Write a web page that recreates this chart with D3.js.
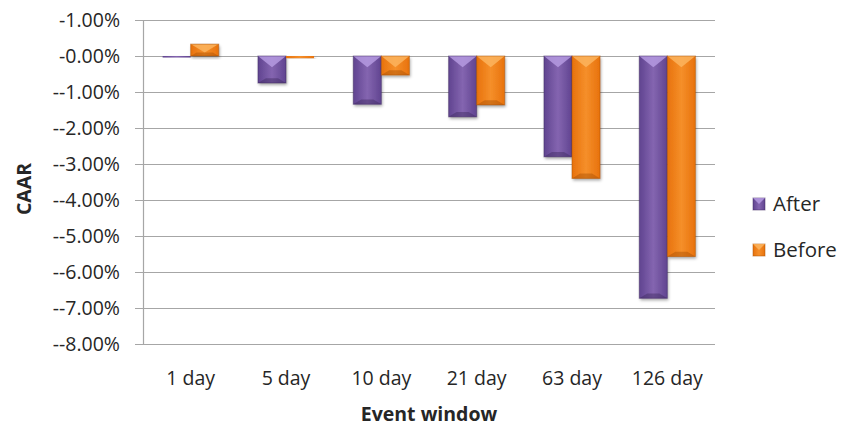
<!DOCTYPE html>
<html><head><meta charset="utf-8">
<script src="https://cdn.jsdelivr.net/npm/d3@7"></script>
<style>body{margin:0;background:#fff}svg{display:block}text{font-family:"Open Sans",Lato,sans-serif;fill:#262626}</style>
</head><body><svg id="c" width="842" height="427"></svg>
<script>
const categories = ["1 day","5 day","10 day","21 day","63 day","126 day"];
const seriesNames = ["After","Before"];
const after  = [-0.01,-0.75,-1.34,-1.69,-2.80,-6.73];
const before = [0.33,-0.06,-0.53,-1.36,-3.40,-5.57];
const yTicks = [1,0,-1,-2,-3,-4,-5,-6,-7,-8];
const colors = {After:["#8465b0","#604490","#3f2a5f"], Before:["#f58f2a","#e8720c","#a84f05"]};

const svg = d3.select("#c");
const m = {l:143, r:715, t:20, b:344};
const x = d3.scaleBand().domain(categories).range([m.l,m.r]).paddingInner(140/340).paddingOuter(70/340);
const xs = d3.scaleBand().domain(seriesNames).range([0,x.bandwidth()]);
const y = d3.scaleLinear().domain([-8,1]).range([m.b,m.t]);

const defs = svg.append("defs");
const f = defs.append("filter").attr("id","sh").attr("x","-20%").attr("y","-20%").attr("width","150%").attr("height","150%");
f.append("feDropShadow").attr("dx",1).attr("dy",2).attr("stdDeviation",1.5).attr("flood-color","#000").attr("flood-opacity",0.35);
seriesNames.forEach(s=>{
  const g = defs.append("linearGradient").attr("id","g"+s).attr("x1",0).attr("x2",1).attr("y1",0).attr("y2",0);
  g.append("stop").attr("offset","0%").attr("stop-color",colors[s][1]);
  g.append("stop").attr("offset","50%").attr("stop-color",colors[s][0]);
  g.append("stop").attr("offset","100%").attr("stop-color",colors[s][1]);
});

const fmt = d => "-" + (d>0 ? d.toFixed(2) : d===0 ? "0.00" : "-"+Math.abs(d).toFixed(2)) + "%";

// gridlines
svg.append("g").selectAll("line").data(yTicks).join("line")
  .attr("x1",m.l-8).attr("x2",m.r).attr("y1",d=>y(d)+0.5).attr("y2",d=>y(d)+0.5)
  .attr("stroke","#a6a6a6").attr("stroke-width",1.2);
// axis line
svg.append("line").attr("x1",m.l+0.5).attr("x2",m.l+0.5).attr("y1",m.t).attr("y2",m.b+0.5).attr("stroke","#a6a6a6").attr("stroke-width",1.2);
// y labels
svg.append("g").selectAll("text").data(yTicks).join("text")
  .attr("x",120).attr("y",d=>y(d)).attr("dy","0.36em").attr("text-anchor","end")
  .attr("font-size",19.5).text(fmt);

// bars
const data = [];
categories.forEach((c,i)=>{ data.push({c,s:"After",v:after[i]}); data.push({c,s:"Before",v:before[i]}); });
const bars = svg.append("g").selectAll("g").data(data).join("g");
bars.each(function(d){
  const g = d3.select(this);
  const bx = x(d.c)+xs(d.s), bw = xs.bandwidth();
  const y0 = y(0), y1 = y(d.v);
  const top = Math.min(y0,y1), h = Math.max(Math.abs(y1-y0),1.5);
  g.append("rect").attr("x",bx).attr("y",top).attr("width",bw).attr("height",h)
    .attr("fill","url(#g"+d.s+")").attr("filter","url(#sh)");
  const b = Math.min(8, h/2, bw/2);
  if (h>3){
    g.append("path").attr("d",`M${bx},${top}L${bx+bw},${top}L${bx+bw/2},${top+b*1.4}Z`)
      .attr("fill",d.s==="After"?"#b59ae0":"#fbb45e").attr("opacity",0.85);
    g.append("path").attr("d",`M${bx},${top+h}L${bx+bw},${top+h}L${bx+bw-b},${top+h-b*0.6}L${bx+b},${top+h-b*0.6}Z`)
      .attr("fill",colors[d.s][2]).attr("opacity",0.45);
    g.append("rect").attr("x",bx).attr("y",top).attr("width",bw).attr("height",h)
      .attr("fill","none").attr("stroke",colors[d.s][2]).attr("stroke-opacity",0.5).attr("stroke-width",1);
  }
});

// x labels
svg.append("g").selectAll("text").data(categories).join("text")
  .attr("x",d=>x(d)+x.bandwidth()/2).attr("y",385).attr("text-anchor","middle")
  .attr("font-size",19.5).text(d=>d);

// axis titles
svg.append("text").attr("x",429).attr("y",421).attr("text-anchor","middle")
  .attr("font-size",19.5).attr("font-weight","bold").text("Event window");
svg.append("text").attr("transform","translate(31,189) rotate(-90)").attr("text-anchor","middle")
  .attr("font-size",19.5).attr("font-weight","bold").text("CAAR");

// legend
const lg = svg.append("g").selectAll("g").data(seriesNames).join("g")
  .attr("transform",(d,i)=>`translate(753,${198+i*46})`);
lg.append("rect").attr("width",12).attr("height",12).attr("fill",d=>"url(#g"+d+")").attr("stroke",d=>colors[d][2]).attr("stroke-opacity",0.5);
lg.append("path").attr("d","M0,0L12,0L6,6Z").attr("fill",d=>d==="After"?"#b59ae0":"#fbb45e").attr("opacity",0.85);
lg.append("text").attr("x",20).attr("y",6).attr("dy","0.36em").attr("font-size",20.5).text(d=>d);
</script></body></html>
